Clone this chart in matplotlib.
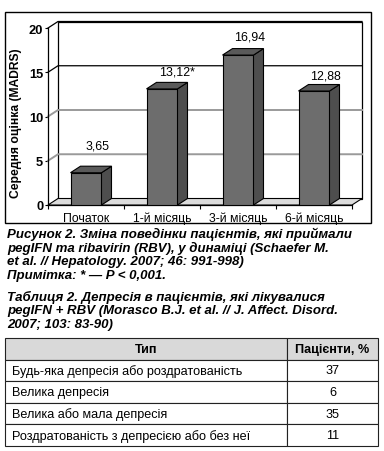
import matplotlib
matplotlib.use("Agg")
import matplotlib.pyplot as plt
from matplotlib.patches import Polygon, Rectangle
import numpy as np

# ---------------- data ----------------
categories = ["Початок", "1-й місяць", "3-й місяць", "6-й місяць"]
values = [3.65, 13.12, 16.94, 12.88]
significant = [False, True, False, False]
y_ticks = [0, 5, 10, 15, 20]
y_label = "Середня оцінка (MADRS)"

caption_lines = [
    "Рисунок 2. Зміна поведінки пацієнтів, які приймали",
    "pegIFN та ribavirin (RBV), у динаміці (Schaefer M.",
    "et al. // Hepatology. 2007; 46: 991-998)",
    "Примітка: * — P < 0,001.",
    "Таблиця 2. Депресія в пацієнтів, які лікувалися",
    "pegIFN + RBV (Morasco B.J. et al. // J. Affect. Disord.",
    "2007; 103: 83-90)",
]
table_header = ["Тип", "Пацієнти, %"]
table_types = [
    "Будь-яка депресія або роздратованість",
    "Велика депресія",
    "Велика або мала депресія",
    "Роздратованість з депресією або без неї",
]
table_pct = [37, 6, 35, 11]

# ---------------- figure ----------------
W, H = 384, 452
plt.rcParams['font.family'] = ['Liberation Sans', 'DejaVu Sans']
fig = plt.figure(figsize=(W / 100, H / 100), dpi=100)

def fx(px):
    return px / W

def fy(py):
    return 1 - py / H

# outer frame of the chart
fig.add_artist(Rectangle((fx(5), fy(224)), fx(371) - fx(5), fy(13) - fy(224),
                         transform=fig.transFigure, fill=False, lw=1.0,
                         edgecolor='black'))

# front plane axes
ax_l, ax_r, ax_b, ax_t = 48, 352, 206, 29
ax = fig.add_axes([fx(ax_l), fy(ax_b), fx(ax_r) - fx(ax_l), fy(ax_t) - fy(ax_b)])
n = len(categories)
ax.set_xlim(0, n)
ax.set_ylim(0, 20)
ax.patch.set_visible(False)

# depth offset (pixels -> data units)
dx_px, dy_px = 10.0, 6.5
x_per_px = n / (ax_r - ax_l)
y_per_px = 20 / (ax_b - ax_t)
ddx, ddy = dx_px * x_per_px, dy_px * y_per_px

kw = dict(clip_on=False)
# back wall
ax.add_patch(Polygon([(ddx, ddy), (n + ddx, ddy), (n + ddx, 20 + ddy), (ddx, 20 + ddy)],
                     closed=True, facecolor='white', edgecolor='black', lw=0.9,
                     zorder=1, **kw))
# gridlines (side wall + back wall)
grid_colors = {5: '#9a9a9a', 10: '#9a9a9a', 15: 'black', 20: 'black'}
for v in y_ticks[1:]:
    lw = 1.4 if grid_colors[v] != 'black' else 0.9
    ax.plot([0, ddx, n + ddx], [v, v + ddy, v + ddy], color=grid_colors[v],
            lw=lw, zorder=2, **kw)
# floor
ax.add_patch(Polygon([(0, 0), (n, 0), (n + ddx, ddy), (ddx, ddy)], closed=True,
                     facecolor='#dcdcdc', edgecolor='black', lw=0.8, zorder=3, **kw))

# bars
x = np.arange(n) + 0.5
bw = 31 * x_per_px
front_c, side_c, top_c = '#6d6d6d', '#4e4e4e', '#5a5a5a'
ax.bar(x, values, width=bw, color=front_c, edgecolor='black', lw=0.8, zorder=5)
for xi, v in zip(x, values):
    l, r = xi - bw / 2, xi + bw / 2
    ax.add_patch(Polygon([(r, 0), (r + ddx, ddy), (r + ddx, v + ddy), (r, v)],
                         closed=True, facecolor=side_c, edgecolor='black', lw=0.8,
                         zorder=5, **kw))
    ax.add_patch(Polygon([(l, v), (r, v), (r + ddx, v + ddy), (l + ddx, v + ddy)],
                         closed=True, facecolor=top_c, edgecolor='black', lw=0.8,
                         zorder=5, **kw))

# value labels
label_rise_px = [27, 17, 19, 16]
for xi, v, s, rise in zip(x, values, significant, label_rise_px):
    txt = f"{v:.2f}".replace('.', ',') + ("*" if s else "")
    ax.annotate(txt, (xi, v), xytext=(8 + (3 if s else 0), rise * 0.72),
                textcoords='offset points', ha='center', va='center',
                fontsize=8.9, zorder=6)

# spines / ticks
for sp in ['top', 'right']:
    ax.spines[sp].set_visible(False)
ax.spines['left'].set_linewidth(0.9)
ax.spines['bottom'].set_linewidth(0.9)
ax.spines['left'].set_zorder(4)
ax.set_yticks(y_ticks)
ax.set_yticklabels([str(t) for t in y_ticks], fontsize=9.3, fontweight='bold')
ax.tick_params(axis='y', length=2.5, width=0.8, pad=1)
ax.set_xticks(np.arange(n + 1))
ax.set_xticklabels([])
ax.set_xticks(x, minor=True)
ax.set_xticklabels(categories, minor=True, fontsize=8.8)
ax.tick_params(axis='x', which='major', length=3, width=0.8)
ax.tick_params(axis='x', which='minor', length=0, pad=5)
ax.set_ylabel(y_label, fontsize=8.7, fontweight='bold', labelpad=5)
ax.yaxis.label.set_position((0, (fy(123) - fy(ax_b)) / (fy(ax_t) - fy(ax_b))))

# caption text
baselines = [238.3, 251.7, 265, 278.5, 301, 314.3, 328]
for line, b in zip(caption_lines, baselines):
    fig.text(fx(7), fy(b), line, fontsize=9.5, fontweight='bold', fontstyle='italic',
             va='baseline', ha='left')

# table
tax = fig.add_axes([fx(5), fy(447), fx(378) - fx(5), fy(339) - fy(447)])
tax.axis('off')
cell_text = [[t, str(p)] for t, p in zip(table_types, table_pct)]
col_w = [(287 - 5) / 373, (378 - 287) / 373]
tbl = tax.table(cellText=cell_text, colLabels=table_header, colWidths=col_w,
                bbox=[0, 0, 1, 1], cellLoc='center')
tbl.auto_set_font_size(False)
tbl.set_fontsize(9.1)
for (r, c), cell in tbl.get_celld().items():
    cell.set_linewidth(0.8)
    cell.set_edgecolor('#222222')
    if r == 0:
        cell.set_facecolor('#d9d9d9')
        cell.get_text().set_fontweight('bold')
    elif c == 0:
        cell.PAD = 7 / 282
        cell.get_text().set_ha('left')
        cell._loc = 'left'

fig.savefig("out.png", dpi=100)
